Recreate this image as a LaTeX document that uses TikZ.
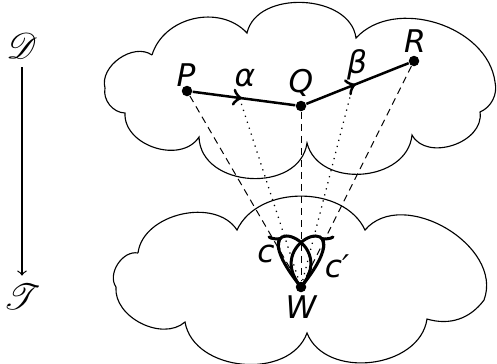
\documentclass[tikz,border=0pt]{standalone}
\usepackage{fontspec}
\usepackage{mathrsfs}
\newfontfamily\labfont{DejaVu Sans}
\usetikzlibrary{decorations.markings,calc}
\begin{document}
\begin{tikzpicture}[x=0.4pt,y=-0.4pt,
  cloudline/.style={line width=0.45pt},
  lobe/.style 2 args={bend left=#1,looseness=#2},
  dot/.style={circle,fill=black,inner sep=0pt,minimum size=4.2pt},
  lab/.style={inner sep=0pt,font=\labfont\itshape\fontsize{12.5}{15}\selectfont},
  scr/.style={font=\fontsize{13.5}{16}\selectfont},
  edgeline/.style={line width=1pt},
  midarrow/.style={postaction={decorate},decoration={markings,mark=at position #1 with {\arrow[scale=1.25]{>}}}},
  proj/.style={line width=0.4pt,dash pattern=on 2.8pt off 2pt},
  trace/.style={line width=0.5pt,dotted},
  loopline/.style={line width=1.2pt}
]
\useasboundingbox (0,0) rectangle (497,363);
% upper cloud
\draw[cloudline] (152,55) to[lobe={60}{1.05}] (247,33) to[lobe={80}{1.05}] (356,38)
  to[lobe={65}{1.0}] (495,82) to[lobe={40}{0.95}] (480,112) to[lobe={80}{1.1}] (412,135)
  to[lobe={80}{1.16}] (307,143) to[lobe={85}{1.22}] (199,137) to[lobe={75}{1.08}] (125,113)
  to[lobe={50}{0.97}] (105,88) to[lobe={70}{1.01}] (152,55);
% lower cloud
\draw[cloudline] (138,253) to[lobe={70}{1.0}] (237,230) to[lobe={65}{1.0}] (365,230)
  to[lobe={80}{1.07}] (484,300) to[lobe={35}{1.0}] (427,319) to[lobe={75}{1.07}] (307,333)
  to[lobe={75}{1.06}] (185,322) to[lobe={68}{1.0}] (116,287) to[lobe={68}{1.0}] (138,253);
% points
\node[dot] (P) at (187,91) {};
\node[dot] (Q) at (301,106) {};
\node[dot] (R) at (414,61) {};
\node[dot] (W) at (301,287) {};
\coordinate (A) at ($(P)!0.46!(Q)$);
\coordinate (B) at ($(Q)!0.46!(R)$);
% projections
\draw[proj] (P) -- (W);
\draw[proj] (Q) -- (W);
\draw[proj] (R) -- (W);
\draw[trace] (A) -- (W);
\draw[trace] (B) -- (W);
% path
\draw[edgeline,midarrow=0.48] (P) -- (Q);
\draw[edgeline,midarrow=0.48] (Q) -- (R);
% loops
\draw[loopline,midarrow=0.44] (W.center) .. controls ($(W.center)+(-68,-84)$) and ($(W.center)+(42,-50)$) .. (W.center);
\draw[loopline,midarrow=0.44] (W.center) .. controls ($(W.center)+(68,-84)$) and ($(W.center)+(-42,-50)$) .. (W.center);
% labels
\node[lab] (Pl) at (186,75) {P};
\node[lab] (Ql) at (301,83) {Q};
\node[lab] (Rl) at (415,41) {R};
\node[lab] (al) at (245,78) {α};
\node[lab] (bl) at (357,65) {β};
\node[lab] (Wl) at (301,307) {W};
\node[lab] (cl) at (266,254) {c};
\node[lab] (cpl) at (337,266) {c′};
% functor arrow
\node[scr] (D) at (22,46) {$\mathscr{D}$};
\node[scr] (T) at (22,297) {$\mathscr{T}$};
\draw[->,line width=0.5pt] (D) -- (T);
\end{tikzpicture}
\end{document}
